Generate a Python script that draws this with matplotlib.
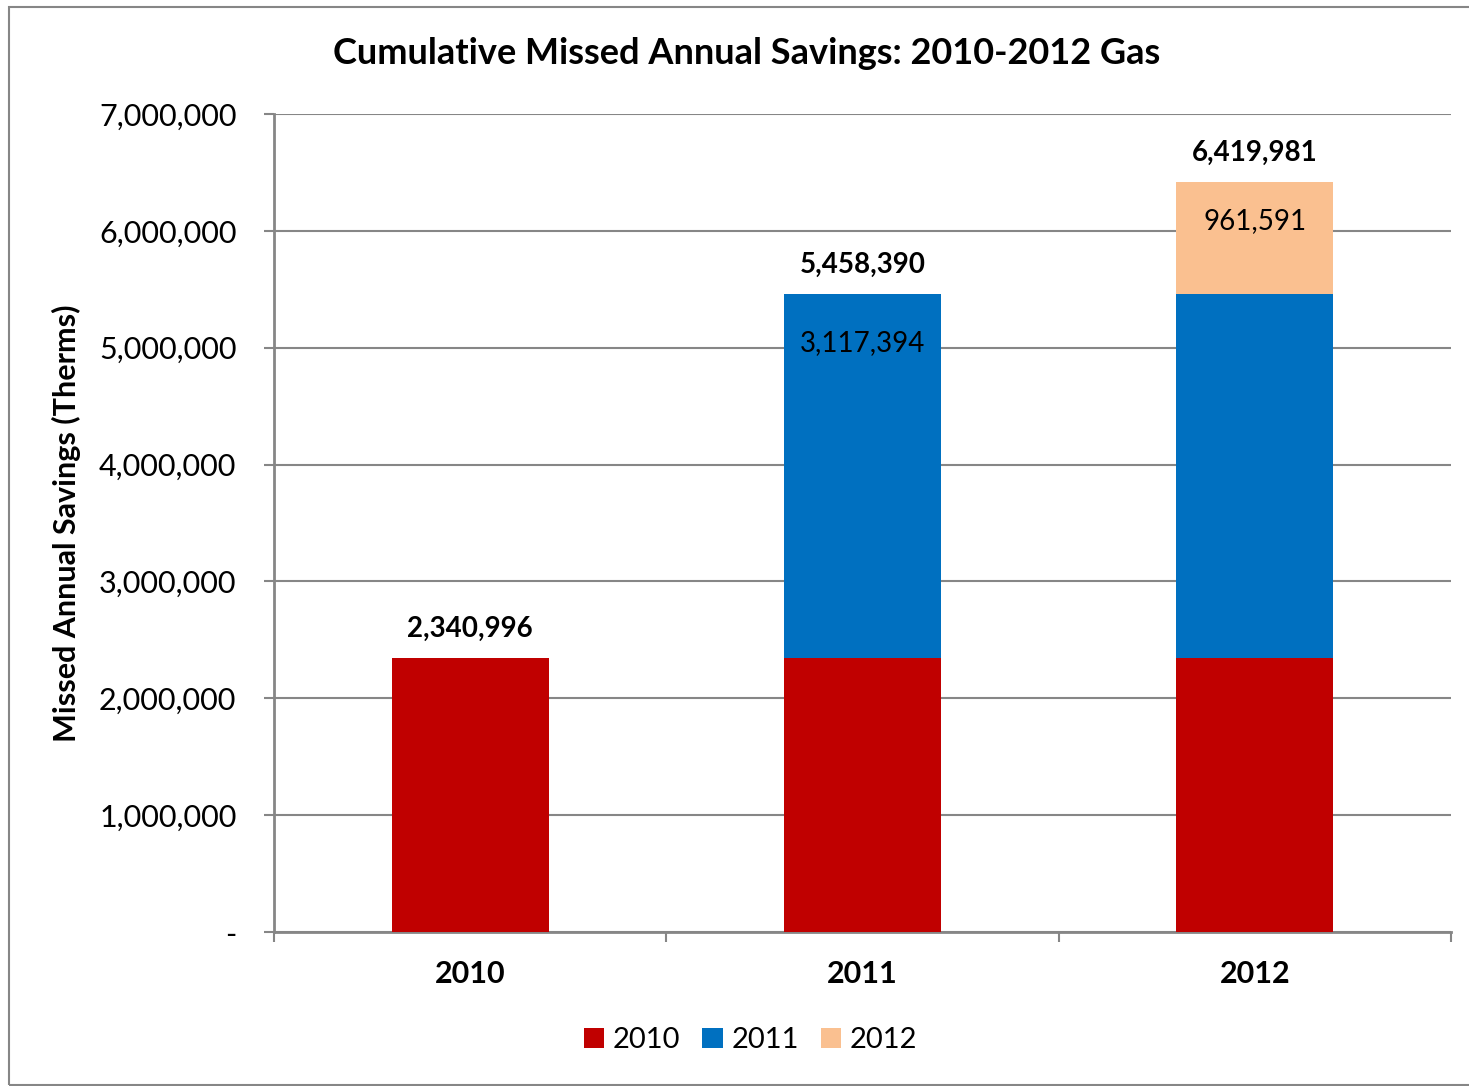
import matplotlib
matplotlib.use('Agg')
import matplotlib.pyplot as plt
import numpy as np
from matplotlib.patches import Rectangle
from matplotlib.ticker import FuncFormatter

plt.rcParams['font.family'] = ['Lato', 'DejaVu Sans']

categories = ['2010', '2011', '2012']
series_names = ['2010', '2011', '2012']
vals_2010 = [2340996, 2340996, 2340996]
vals_2011 = [0, 3117394, 3117394]
vals_2012 = [0, 0, 961591]
totals = [2340996, 5458390, 6419981]
colors = ['#C00000', '#0070C0', '#FAC090']

fig = plt.figure(figsize=(14.69, 10.86), dpi=100)
ax = fig.add_axes([0.1865, 0.1418, 0.8012, 0.7532])

x = np.arange(len(categories))
w = 0.4
ax.bar(x, vals_2010, w, color=colors[0], label=series_names[0], zorder=3)
ax.bar(x, vals_2011, w, bottom=vals_2010, color=colors[1], label=series_names[1], zorder=3)
bottom3 = np.array(vals_2010) + np.array(vals_2011)
ax.bar(x, vals_2012, w, bottom=bottom3, color=colors[2], label=series_names[2], zorder=3)

# total labels
for xi, t in zip(x, totals):
    ax.annotate(f'{t:,.0f}', (xi, t), xytext=(0, 21), textcoords='offset points',
                ha='center', va='center', fontsize=20, fontweight='bold')

# segment labels (only on the newest segment of each bar)
ax.annotate(f'{vals_2011[1]:,.0f}', (x[1], totals[1]), xytext=(0, -35), textcoords='offset points',
            ha='center', va='center', fontsize=20)
ax.annotate(f'{vals_2012[2]:,.0f}', (x[2], totals[2]), xytext=(0, -28), textcoords='offset points',
            ha='center', va='center', fontsize=20)

ax.set_xlim(-0.5, 2.5)
ax.set_ylim(0, 7000000)
ax.set_yticks(np.arange(0, 7000001, 1000000))
ax.yaxis.set_major_formatter(FuncFormatter(lambda v, p: '-' if v == 0 else f'{v:,.0f}'))
ax.yaxis.grid(True, color='#868686', linewidth=1.5, zorder=0)

ax.set_xticks(x)
ax.set_xticklabels(categories, fontsize=22, fontweight='bold')
ax.set_xticks([-0.5, 0.5, 1.5, 2.5], minor=True)
ax.tick_params(axis='x', which='major', length=0, pad=20)
ax.tick_params(axis='x', which='minor', length=7, width=1.5, color='#868686', direction='out')
ax.tick_params(axis='y', length=7, width=1.5, color='#868686', labelsize=22, pad=20)

for s in ['top', 'right']:
    ax.spines[s].set_visible(False)
for s in ['left', 'bottom']:
    ax.spines[s].set_color('#868686')
    ax.spines[s].set_linewidth(2)

ax.set_ylabel('Missed Annual Savings (Therms)', fontsize=22, fontweight='bold')
ax.yaxis.set_label_coords(-0.164, 0.5)
fig.text(0.508, 0.951, 'Cumulative Missed Annual Savings: 2010-2012 Gas', fontsize=26,
         fontweight='bold', ha='center', va='center')

ax.legend(loc='center', bbox_to_anchor=(0.511, 0.042), bbox_transform=fig.transFigure,
          ncol=3, frameon=False, fontsize=21, handlelength=0.7, handleheight=0.7,
          handletextpad=0.3, columnspacing=0.75)

fig.patches.append(Rectangle((0.006, 0.001), 1.1, 0.993, transform=fig.transFigure,
                             fill=False, edgecolor='#868686', linewidth=1.5))

fig.savefig('out.png', dpi=100)
